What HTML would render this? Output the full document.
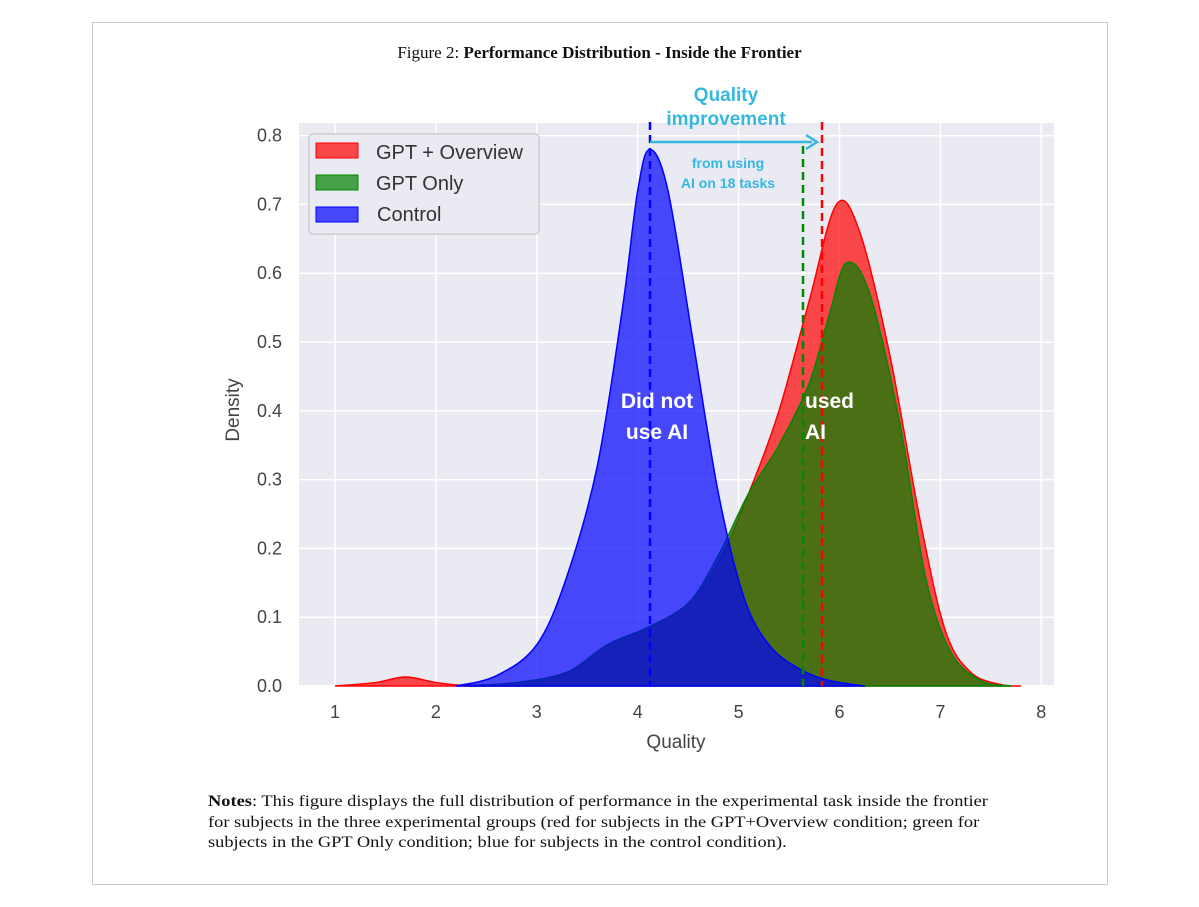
<!DOCTYPE html>
<html><head><meta charset="utf-8"><style>
body{margin:0;background:#fff;width:1199px;height:907px;overflow:hidden;position:relative}
.box{position:absolute;left:92px;top:22px;width:1014px;height:861px;border:1px solid #c8c8c8}
.t{position:absolute;font-family:"Liberation Serif",serif;color:#111}
</style></head><body>
<div class="box"></div>
<div class="t" style="left:0;width:1199px;top:43px;text-align:center;font-size:17px">Figure 2: <b>Performance Distribution - Inside the Frontier</b></div>
<div class="t" style="left:208px;top:792px;font-size:16px;line-height:20.5px;white-space:nowrap;transform:scaleX(1.15);transform-origin:0 0"><b>Notes</b>: This figure displays the full distribution of performance in the experimental task inside the frontier<br>for subjects in the three experimental groups (red for subjects in the GPT+Overview condition; green for<br>subjects in the GPT Only condition; blue for subjects in the control condition).</div>
<svg id="s" width="1199" height="907" style="position:absolute;left:0;top:0" font-family="Liberation Sans, sans-serif">
<rect x="299" y="123" width="755" height="562" fill="#eaeaf2"/>
<g id="grid" stroke="#fff" stroke-width="1.5"></g>
<path id="red" fill="rgba(255,0,0,0.7)" stroke="#f00" stroke-width="1.5"/>
<path id="green" fill="rgba(0,128,0,0.7)" stroke="#080" stroke-width="1.5"/>
<path id="blue" fill="rgba(0,0,255,0.7)" stroke="#00f" stroke-width="1.5"/>
<g id="lab" fill="#444" font-size="18"></g>
<line x1="650" y1="122" x2="650" y2="686" stroke="#00f" stroke-width="2.5" stroke-dasharray="8,5"/>
<line x1="803" y1="146" x2="803" y2="686" stroke="#080" stroke-width="2.5" stroke-dasharray="8,5"/>
<line x1="822" y1="122" x2="822" y2="686" stroke="#f00" stroke-width="2.5" stroke-dasharray="8,5"/>
<rect x="309" y="134" width="230" height="100" rx="4" fill="#eaeaf2" stroke="#ccc" stroke-width="1.5" opacity="0.95"/>
<rect x="316" y="143" width="42" height="15" fill="rgba(255,0,0,0.7)" stroke="#f00"/>
<rect x="316" y="175" width="42" height="15" fill="rgba(0,128,0,0.7)" stroke="#080"/>
<rect x="316" y="207" width="42" height="15" fill="rgba(0,0,255,0.7)" stroke="#00f"/>
<g fill="#333" font-size="20"><text x="376" y="159">GPT + Overview</text><text x="376" y="190">GPT Only</text><text x="377" y="221">Control</text></g>
<text x="676" y="748" text-anchor="middle" font-size="19" fill="#444">Quality</text>
<text transform="translate(239,410) rotate(-90)" text-anchor="middle" font-size="19" fill="#444">Density</text>
<g fill="#35b8e0" font-weight="bold" text-anchor="middle"><text x="726" y="101" font-size="19">Quality</text><text x="726" y="125" font-size="19">improvement</text><text x="728" y="168" font-size="14">from using</text><text x="728" y="188" font-size="14">AI on 18 tasks</text></g>
<line x1="650" y1="142" x2="812" y2="142" stroke="#35b8e0" stroke-width="2.5"/>
<path d="M806 135 L817 142 L806 149" fill="none" stroke="#35b8e0" stroke-width="2.5"/>
<g fill="#fff" font-weight="bold" font-size="21"><text x="657" y="408" text-anchor="middle">Did not</text><text x="657" y="439" text-anchor="middle">use AI</text><text x="805" y="408">used</text><text x="805" y="439">AI</text></g>
</svg>
<script>
var X=q=>335+(q-1)*100.9, Y=d=>686-d*688;
var g=document.getElementById('grid'),l=document.getElementById('lab'),h='',t='';
for(var i=1;i<=8;i++){h+='<line x1="'+X(i)+'" y1="123" x2="'+X(i)+'" y2="685"/>';t+='<text x="'+X(i)+'" y="718" text-anchor="middle">'+i+'</text>';}
for(var j=0;j<=8;j++){var y=Y(j/10);h+='<line x1="299" y1="'+y+'" x2="1054" y2="'+y+'"/>';t+='<text x="282" y="'+(y+6)+'" text-anchor="end">'+(j/10).toFixed(1)+'</text>';}
g.innerHTML=h;l.innerHTML=t;
function path(p){var pts=p.map(a=>[X(a[0]),Y(a[1])]);var d='M'+pts[0][0]+' '+Y(0)+' L'+pts[0][0]+' '+pts[0][1];
for(var i=0;i<pts.length-1;i++){var p0=pts[Math.max(i-1,0)],p1=pts[i],p2=pts[i+1],p3=pts[Math.min(i+2,pts.length-1)];
d+=' C'+(p1[0]+(p2[0]-p0[0])/6)+' '+(p1[1]+(p2[1]-p0[1])/6)+' '+(p2[0]-(p3[0]-p1[0])/6)+' '+(p2[1]-(p3[1]-p1[1])/6)+' '+p2[0]+' '+p2[1];}
return d+' L'+pts[pts.length-1][0]+' '+Y(0)+'Z';}
document.getElementById('red').setAttribute('d',path([[1,0],[1.4,0.005],[1.7,0.013],[2,0.005],[2.3,0.001],[2.8,0.005],[3.3,0.02],[3.7,0.06],[4.1,0.085],[4.5,0.12],[4.8,0.18],[5.1,0.28],[5.4,0.4],[5.7,0.56],[5.97,0.70],[6.2,0.66],[6.5,0.48],[6.8,0.24],[7.05,0.08],[7.3,0.02],[7.6,0.002],[7.8,0]]));
document.getElementById('green').setAttribute('d',path([[2.3,0],[2.8,0.005],[3.3,0.02],[3.7,0.06],[4.1,0.085],[4.5,0.12],[4.8,0.19],[5.1,0.28],[5.4,0.35],[5.7,0.44],[5.9,0.54],[6.07,0.615],[6.3,0.57],[6.6,0.38],[6.85,0.16],[7.1,0.05],[7.4,0.008],[7.7,0]]));
document.getElementById('blue').setAttribute('d',path([[2.2,0],[2.6,0.015],[3,0.06],[3.3,0.16],[3.6,0.32],[3.85,0.55],[4.0,0.72],[4.12,0.78],[4.3,0.72],[4.55,0.5],[4.8,0.28],[5.05,0.13],[5.3,0.06],[5.6,0.025],[5.9,0.008],[6.25,0]]));
</script>
</body></html>
